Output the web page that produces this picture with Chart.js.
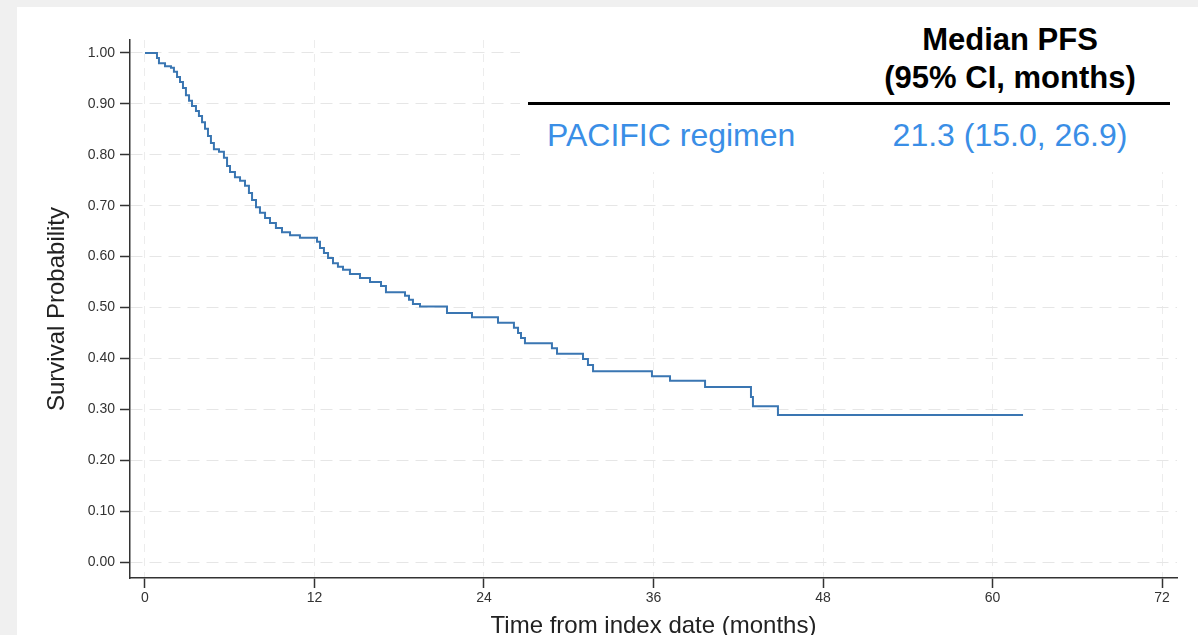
<!DOCTYPE html>
<html>
<head>
<meta charset="utf-8">
<script src="https://cdn.jsdelivr.net/npm/chart.js@4.4.1/dist/chart.umd.min.js"></script>
<style>
  html, body { margin: 0; padding: 0; background: #f0f0f0; width: 1198px; height: 635px; overflow: hidden; }
  #panel { position: absolute; left: 17px; top: 7px; width: 1181px; height: 628px; background: #fff; }
  #km { position: absolute; left: 0; top: 0; }
  #table { position: absolute; left: 520px; top: 7px; width: 660px; height: 165px; background: #fff; z-index: 2;
           font-family: "Liberation Sans", Arial, sans-serif; }
  .t { position: absolute; line-height: 1; white-space: nowrap; }
  .head { font-weight: bold; color: #000; font-size: 31px; text-align: center; left: 340px; width: 300px; }
  .blue { color: #3a8ee6; font-size: 32px; }
  #rule { position: absolute; left: 8px; top: 95px; width: 642px; height: 2.5px; background: #000; }
</style>
</head>
<body>
<div id="panel"></div>
<canvas id="km" width="1198" height="635"></canvas>
<div id="table">
  <div class="t head" style="top: 17px;">Median PFS</div>
  <div class="t head" style="top: 55px;">(95% CI, months)</div>
  <div id="rule"></div>
  <div class="t blue" style="left: 27px; top: 112px;">PACIFIC regimen</div>
  <div class="t blue" style="left: 340px; width: 300px; text-align: center; top: 112px;">21.3 (15.0, 26.9)</div>
</div>
<script>
// Kaplan-Meier steps (time in months, survival probability)
const months = [0, 0.85, 0.99, 1.42, 1.84, 2.05, 2.27, 2.48, 2.69, 2.90, 3.12, 3.33, 3.61, 3.82, 4.04, 4.25,
  4.46, 4.67, 4.88, 5.24, 5.59, 5.81, 6.02, 6.37, 6.73, 7.08, 7.36, 7.58, 7.86, 8.14, 8.50, 8.85, 9.27, 9.70,
  10.27, 10.97, 12.18, 12.39, 12.67, 12.96, 13.31, 13.66, 14.02, 14.51, 15.22, 15.93, 16.71, 17.06, 18.41,
  18.69, 18.97, 19.47, 21.38, 23.15, 24.99, 26.12, 26.41, 26.62, 26.90, 28.81, 29.17, 31.01, 31.36, 31.72,
  35.89, 37.17, 39.65, 42.90, 43.04, 44.81, 62.16];
const survival = [1.0, 0.990, 0.980, 0.974, 0.971, 0.963, 0.953, 0.943, 0.931, 0.917, 0.906, 0.896, 0.886,
  0.876, 0.864, 0.851, 0.837, 0.823, 0.811, 0.806, 0.794, 0.778, 0.766, 0.756, 0.749, 0.739, 0.725, 0.711,
  0.697, 0.686, 0.676, 0.666, 0.656, 0.648, 0.642, 0.637, 0.629, 0.617, 0.607, 0.597, 0.587, 0.580, 0.574,
  0.566, 0.558, 0.550, 0.542, 0.530, 0.523, 0.515, 0.507, 0.502, 0.489, 0.481, 0.470, 0.460, 0.450, 0.440,
  0.430, 0.420, 0.409, 0.399, 0.387, 0.375, 0.365, 0.356, 0.344, 0.324, 0.306, 0.289, 0.289];
const xTicks = [0, 12, 24, 36, 48, 60, 72];
const yTicks = [0, 0.1, 0.2, 0.3, 0.4, 0.5, 0.6, 0.7, 0.8, 0.9, 1.0];

const seriesName = "PACIFIC regimen";
const xTitle = "Time from index date (months)";
const yTitle = "Survival Probability";

const points = months.map((m, i) => ({ x: m, y: survival[i] }));

const tickFont = { family: "'Liberation Sans', Arial, sans-serif", size: 14 };
const gridStyle = { color: '#e6e6e6', lineWidth: 1, tickColor: '#333', tickWidth: 1.5, tickLength: 10 };

const ctx = document.getElementById('km').getContext('2d');
new Chart(ctx, {
  type: 'line',
  data: {
    datasets: [{
      label: seriesName,
      data: points,
      stepped: true,
      borderColor: '#3a76b2',
      borderWidth: 2,
      pointRadius: 0,
      fill: false
    }]
  },
  options: {
    responsive: false,
    animation: false,
    layout: { padding: { left: 0, top: 40, right: 21, bottom: 0 } },
    plugins: { legend: { display: false }, tooltip: { enabled: false } },
    scales: {
      x: {
        type: 'linear',
        min: -1.06,
        max: 73.06,
        afterBuildTicks: s => { s.ticks = xTicks.map(v => ({ value: v })); },
        afterFit: s => { s.height = 57; },
        ticks: { font: tickFont, color: '#333', padding: 2, maxRotation: 0, callback: v => String(v) },
        grid: { ...gridStyle, color: '#ececec' },
        border: { display: true, color: '#333', width: 1.5, dash: [8, 6] },
        title: {
          display: true, text: xTitle, color: '#222',
          font: { family: "'Liberation Sans', Arial, sans-serif", size: 24, lineHeight: 0.7 },
          padding: { top: 0, bottom: 0 }
        }
      },
      y: {
        type: 'linear',
        min: -0.0314,
        max: 1.0255,
        afterBuildTicks: s => { s.ticks = yTicks.map(v => ({ value: v })); },
        afterFit: s => { s.width = 130; },
        ticks: { font: tickFont, color: '#333', padding: 5, callback: v => Number(v).toFixed(2) },
        grid: gridStyle,
        border: { display: true, color: '#333', width: 1.5, dash: [12, 7] },
        title: {
          display: true, text: yTitle, color: '#222',
          font: { family: "'Liberation Sans', Arial, sans-serif", size: 24, lineHeight: 1.2 },
          padding: { top: 43, bottom: 0 }
        }
      }
    }
  }
});
</script>
</body>
</html>
